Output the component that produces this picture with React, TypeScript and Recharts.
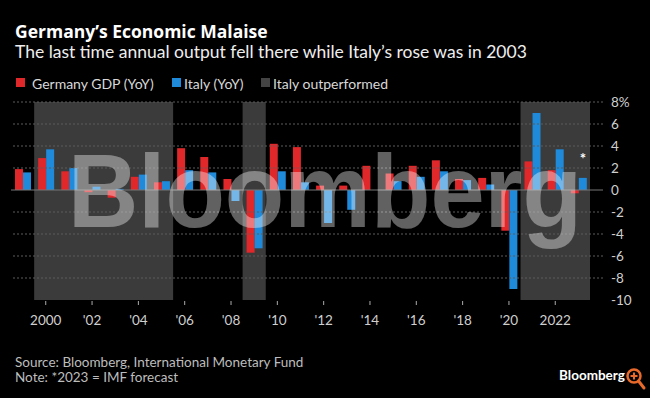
import { BarChart, Bar, XAxis, YAxis, ReferenceArea, ReferenceLine, Rectangle } from 'recharts';

const years = [
  '1999', '2000', '2001', '2002', '2003', '2004', '2005', '2006', '2007', '2008', '2009', '2010', '2011',
  '2012', '2013', '2014', '2015', '2016', '2017', '2018', '2019', '2020', '2021', '2022', '2023',
];
const germanyGdp = [1.9, 2.9, 1.7, -0.2, -0.7, 1.2, 0.7, 3.8, 3.0, 1.0, -5.7, 4.2, 3.9, 0.4, 0.4, 2.2, 1.5, 2.2, 2.7, 1.0, 1.1, -3.7, 2.6, 1.8, -0.3];
const italyGdp = [1.6, 3.7, 2.0, 0.3, 0.1, 1.4, 0.8, 1.8, 1.6, -1.0, -5.3, 1.7, 0.7, -3.0, -1.8, 0.0, 0.8, 1.2, 1.7, 0.9, 0.5, -9.0, 7.0, 3.7, 1.1];
const outperformedRanges = [['2000', '2005'], ['2009', '2009'], ['2021', '2023']];
const forecastYear = '2023';
const yTicks = [-10, -8, -6, -4, -2, 0, 2, 4, 6, 8];
const gridValues = [-8, -6, -4, -2, 2, 4, 6, 8];
const tickYears = ['2000', '2002', '2004', '2006', '2008', '2010', '2012', '2014', '2016', '2018', '2020', '2022'];
const tickLabels = ['2000', "'02", "'04", "'06", "'08", "'10", "'12", "'14", "'16", "'18", "'20", '2022'];

const RED = '#e0282b';
const BLUE = '#1f8ad9';
const SHADE = '#3b3b3b';
const FONT = 'Lato, "Open Sans", sans-serif';

const data = years.map((year, i) => ({ year, germany: germanyGdp[i], italy: italyGdp[i] }));

const XTick = ({ x, y, payload }: any) => {
  const idx = tickYears.indexOf(String(payload.value));
  if (idx < 0) return <g />;
  return (
    <g>
      <line x1={x} x2={x} y1={y + 1} y2={y + 5} stroke="#aaa" />
      <text x={x} y={y + 25} textAnchor="middle" fill="#cfcfcf" fontSize={13.5} fontFamily={FONT}>
        {tickLabels[idx]}
      </text>
    </g>
  );
};

// italy bar, with an asterisk over the forecast year
const ItalyBar = (props: any) => {
  const { x, y, width, payload } = props;
  return (
    <g>
      <Rectangle {...props} />
      {payload && payload.year === forecastYear && (
        <text x={x + width / 2} y={y - 14} textAnchor="middle" fill="#fff" fontSize={15} fontWeight={700} fontFamily={FONT}>
          *
        </text>
      )}
    </g>
  );
};

export default function App() {
  return (
    <div style={{ position: 'absolute', left: 0, top: 0, width: 650, height: 398, background: '#000', overflow: 'hidden' }}>
      <BarChart
        width={650}
        height={398}
        data={data}
        margin={{ top: 102, right: 0, bottom: 68, left: 11 }}
        barGap={0}
        barSize={8}
      >
        {outperformedRanges.map(([a, b]) => (
          <ReferenceArea key={a} x1={a} x2={b} y1={-10} y2={8} fill={SHADE} fillOpacity={1} stroke="none" />
        ))}
        {gridValues.map((v) => (
          <ReferenceLine key={v} y={v} stroke="#5c5c5c" strokeDasharray="2 2" />
        ))}
        <ReferenceLine y={0} stroke="#777" />
        <XAxis
          dataKey="year"
          interval={0}
          tick={XTick}
          tickLine={false}
          axisLine={false}
          tickSize={0}
          tickMargin={0}
          height={30}
          padding={{ left: 0, right: 13 }}
        />
        <YAxis
          orientation="right"
          domain={[-10, 8]}
          ticks={yTicks}
          width={47}
          axisLine={false}
          tickLine={false}
          tickMargin={2}
          tick={{ fill: '#cfcfcf', fontSize: 13.5, fontFamily: FONT }}
          tickFormatter={(v: number) => (v === 8 ? '8%' : String(v))}
        />
        <Bar dataKey="germany" fill={RED} isAnimationActive={false} />
        <Bar dataKey="italy" fill={BLUE} isAnimationActive={false} shape={ItalyBar} />
      </BarChart>

      <svg width={650} height={398} style={{ position: 'absolute', left: 0, top: 0, pointerEvents: 'none' }}>
        <g transform="translate(68,227) scale(1,1.08)">
          <text x={0} y={0} fontSize={96} fontWeight={700} fontFamily="'Liberation Sans', Arial, sans-serif"
            fill="#fff" fillOpacity={0.38} textLength={514} lengthAdjust="spacingAndGlyphs">
            Bloomberg
          </text>
        </g>

        <text x={15} y={38} fill="#fff" fontSize={17.5} fontWeight={700} fontFamily='"Open Sans", Lato, sans-serif'>
          Germany’s Economic Malaise
        </text>
        <text x={15} y={58} fill="#eee" fontSize={17.5} fontFamily={FONT}>
          The last time annual output fell there while Italy’s rose was in 2003
        </text>

        <rect x={16} y={78} width={9} height={9} fill={RED} />
        <text x={32} y={88.5} fill="#d8d8d8" fontSize={14} fontFamily={FONT}>Germany GDP (YoY)</text>
        <rect x={172} y={78} width={9} height={9} fill={BLUE} />
        <text x={184} y={88.5} fill="#d8d8d8" fontSize={14} fontFamily={FONT}>Italy (YoY)</text>
        <rect x={261} y={78} width={9} height={9} fill="#444" />
        <text x={273} y={88.5} fill="#d8d8d8" fontSize={14} fontFamily={FONT}>Italy outperformed</text>

        <text x={15} y={367} fill="#bdbdbd" fontSize={13.5} fontFamily={FONT}>
          Source: Bloomberg, International Monetary Fund
        </text>
        <text x={15} y={382} fill="#bdbdbd" fontSize={13.5} fontFamily={FONT}>
          Note: *2023 = IMF forecast
        </text>

        <text x={559} y={380} fill="#fff" fontSize={13.5} fontWeight={700} fontFamily={FONT}>Bloomberg</text>
        <circle cx={634} cy={376} r={6.5} fill="none" stroke="#e8692a" strokeWidth={2.5} />
        <line x1={638.5} y1={381} x2={644} y2={388} stroke="#e8692a" strokeWidth={3} strokeLinecap="round" />
        <line x1={630.5} y1={376} x2={637.5} y2={376} stroke="#e8692a" strokeWidth={2} />
        <line x1={634} y1={372.5} x2={634} y2={379.5} stroke="#e8692a" strokeWidth={2} />
      </svg>
    </div>
  );
}
